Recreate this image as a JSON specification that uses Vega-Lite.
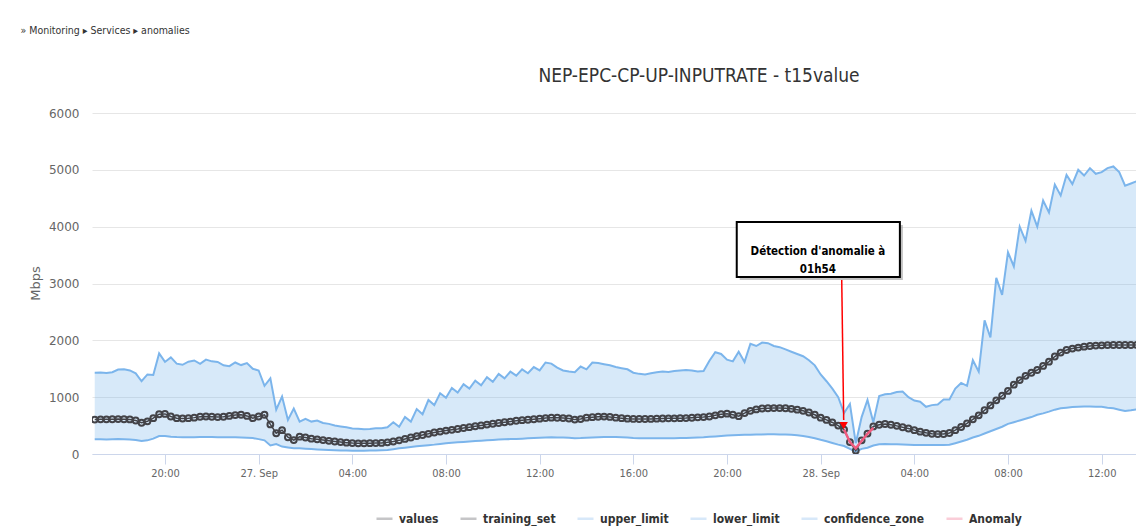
{
  "$schema": "https://vega.github.io/schema/vega-lite/v6.json",
  "width": 1044,
  "height": 341,
  "autosize": {"type": "none"},
  "padding": {"left": 92, "top": 113, "right": 0, "bottom": 72},
  "background": "white",
  "title": {"text": "NEP-EPC-CP-UP-INPUTRATE - t15value", "anchor": "middle", "dx": 85, "offset": -61, "font": "DejaVu Sans Condensed", "fontSize": 19, "fontWeight": "normal", "color": "#333333"},
  "config": {"view": {"stroke": null}},
  "datasets": {
    "series": [
      {"t":"2019-09-26T17:00","value":605,"upper_limit":1430,"lower_limit":258},
      {"t":"2019-09-26T17:15","value":610,"upper_limit":1432,"lower_limit":258},
      {"t":"2019-09-26T17:30","value":610,"upper_limit":1425,"lower_limit":256},
      {"t":"2019-09-26T17:45","value":612,"upper_limit":1440,"lower_limit":258},
      {"t":"2019-09-26T18:00","value":615,"upper_limit":1485,"lower_limit":262},
      {"t":"2019-09-26T18:15","value":612,"upper_limit":1492,"lower_limit":260},
      {"t":"2019-09-26T18:30","value":608,"upper_limit":1470,"lower_limit":255},
      {"t":"2019-09-26T18:45","value":590,"upper_limit":1420,"lower_limit":245},
      {"t":"2019-09-26T19:00","value":550,"upper_limit":1280,"lower_limit":229},
      {"t":"2019-09-26T19:15","value":575,"upper_limit":1400,"lower_limit":240},
      {"t":"2019-09-26T19:30","value":630,"upper_limit":1390,"lower_limit":270},
      {"t":"2019-09-26T19:45","value":700,"upper_limit":1770,"lower_limit":315},
      {"t":"2019-09-26T20:00","value":705,"upper_limit":1620,"lower_limit":317},
      {"t":"2019-09-26T20:15","value":660,"upper_limit":1700,"lower_limit":305},
      {"t":"2019-09-26T20:30","value":630,"upper_limit":1590,"lower_limit":298},
      {"t":"2019-09-26T20:45","value":625,"upper_limit":1570,"lower_limit":295},
      {"t":"2019-09-26T21:00","value":630,"upper_limit":1625,"lower_limit":295},
      {"t":"2019-09-26T21:15","value":640,"upper_limit":1645,"lower_limit":296},
      {"t":"2019-09-26T21:30","value":655,"upper_limit":1585,"lower_limit":297},
      {"t":"2019-09-26T21:45","value":660,"upper_limit":1660,"lower_limit":298},
      {"t":"2019-09-26T22:00","value":655,"upper_limit":1630,"lower_limit":298},
      {"t":"2019-09-26T22:15","value":650,"upper_limit":1620,"lower_limit":296},
      {"t":"2019-09-26T22:30","value":655,"upper_limit":1560,"lower_limit":294},
      {"t":"2019-09-26T22:45","value":670,"upper_limit":1545,"lower_limit":294},
      {"t":"2019-09-26T23:00","value":685,"upper_limit":1610,"lower_limit":293},
      {"t":"2019-09-26T23:15","value":690,"upper_limit":1565,"lower_limit":292},
      {"t":"2019-09-26T23:30","value":670,"upper_limit":1600,"lower_limit":288},
      {"t":"2019-09-26T23:45","value":630,"upper_limit":1500,"lower_limit":280},
      {"t":"2019-09-27T00:00","value":660,"upper_limit":1470,"lower_limit":262},
      {"t":"2019-09-27T00:15","value":690,"upper_limit":1200,"lower_limit":240},
      {"t":"2019-09-27T00:30","value":520,"upper_limit":1330,"lower_limit":150},
      {"t":"2019-09-27T00:45","value":365,"upper_limit":780,"lower_limit":175},
      {"t":"2019-09-27T01:00","value":420,"upper_limit":1010,"lower_limit":130},
      {"t":"2019-09-27T01:15","value":295,"upper_limit":600,"lower_limit":115},
      {"t":"2019-09-27T01:30","value":245,"upper_limit":800,"lower_limit":100},
      {"t":"2019-09-27T01:45","value":305,"upper_limit":570,"lower_limit":100},
      {"t":"2019-09-27T02:00","value":290,"upper_limit":620,"lower_limit":92},
      {"t":"2019-09-27T02:15","value":270,"upper_limit":570,"lower_limit":86},
      {"t":"2019-09-27T02:30","value":258,"upper_limit":590,"lower_limit":80},
      {"t":"2019-09-27T02:45","value":245,"upper_limit":545,"lower_limit":76},
      {"t":"2019-09-27T03:00","value":232,"upper_limit":530,"lower_limit":70},
      {"t":"2019-09-27T03:15","value":220,"upper_limit":500,"lower_limit":66},
      {"t":"2019-09-27T03:30","value":210,"upper_limit":485,"lower_limit":62},
      {"t":"2019-09-27T03:45","value":200,"upper_limit":470,"lower_limit":60},
      {"t":"2019-09-27T04:00","value":192,"upper_limit":450,"lower_limit":58},
      {"t":"2019-09-27T04:15","value":188,"upper_limit":445,"lower_limit":58},
      {"t":"2019-09-27T04:30","value":188,"upper_limit":435,"lower_limit":58},
      {"t":"2019-09-27T04:45","value":190,"upper_limit":440,"lower_limit":60},
      {"t":"2019-09-27T05:00","value":192,"upper_limit":452,"lower_limit":62},
      {"t":"2019-09-27T05:15","value":195,"upper_limit":455,"lower_limit":66},
      {"t":"2019-09-27T05:30","value":205,"upper_limit":470,"lower_limit":72},
      {"t":"2019-09-27T05:45","value":220,"upper_limit":560,"lower_limit":85},
      {"t":"2019-09-27T06:00","value":240,"upper_limit":480,"lower_limit":100},
      {"t":"2019-09-27T06:15","value":265,"upper_limit":650,"lower_limit":112},
      {"t":"2019-09-27T06:30","value":290,"upper_limit":570,"lower_limit":125},
      {"t":"2019-09-27T06:45","value":315,"upper_limit":790,"lower_limit":135},
      {"t":"2019-09-27T07:00","value":335,"upper_limit":700,"lower_limit":145},
      {"t":"2019-09-27T07:15","value":355,"upper_limit":950,"lower_limit":155},
      {"t":"2019-09-27T07:30","value":378,"upper_limit":860,"lower_limit":165},
      {"t":"2019-09-27T07:45","value":395,"upper_limit":1070,"lower_limit":178},
      {"t":"2019-09-27T08:00","value":412,"upper_limit":990,"lower_limit":188},
      {"t":"2019-09-27T08:15","value":425,"upper_limit":1160,"lower_limit":196},
      {"t":"2019-09-27T08:30","value":440,"upper_limit":1080,"lower_limit":205},
      {"t":"2019-09-27T08:45","value":458,"upper_limit":1230,"lower_limit":212},
      {"t":"2019-09-27T09:00","value":472,"upper_limit":1150,"lower_limit":220},
      {"t":"2019-09-27T09:15","value":488,"upper_limit":1290,"lower_limit":228},
      {"t":"2019-09-27T09:30","value":503,"upper_limit":1210,"lower_limit":235},
      {"t":"2019-09-27T09:45","value":518,"upper_limit":1350,"lower_limit":242},
      {"t":"2019-09-27T10:00","value":532,"upper_limit":1270,"lower_limit":248},
      {"t":"2019-09-27T10:15","value":546,"upper_limit":1410,"lower_limit":253},
      {"t":"2019-09-27T10:30","value":558,"upper_limit":1330,"lower_limit":258},
      {"t":"2019-09-27T10:45","value":570,"upper_limit":1450,"lower_limit":262},
      {"t":"2019-09-27T11:00","value":585,"upper_limit":1380,"lower_limit":265},
      {"t":"2019-09-27T11:15","value":595,"upper_limit":1490,"lower_limit":270},
      {"t":"2019-09-27T11:30","value":603,"upper_limit":1420,"lower_limit":275},
      {"t":"2019-09-27T11:45","value":612,"upper_limit":1530,"lower_limit":280},
      {"t":"2019-09-27T12:00","value":622,"upper_limit":1470,"lower_limit":285},
      {"t":"2019-09-27T12:15","value":632,"upper_limit":1610,"lower_limit":290},
      {"t":"2019-09-27T12:30","value":640,"upper_limit":1590,"lower_limit":293},
      {"t":"2019-09-27T12:45","value":638,"upper_limit":1520,"lower_limit":292},
      {"t":"2019-09-27T13:00","value":632,"upper_limit":1470,"lower_limit":290},
      {"t":"2019-09-27T13:15","value":625,"upper_limit":1450,"lower_limit":284},
      {"t":"2019-09-27T13:30","value":605,"upper_limit":1440,"lower_limit":278},
      {"t":"2019-09-27T13:45","value":615,"upper_limit":1540,"lower_limit":280},
      {"t":"2019-09-27T14:00","value":640,"upper_limit":1490,"lower_limit":285},
      {"t":"2019-09-27T14:15","value":648,"upper_limit":1610,"lower_limit":290},
      {"t":"2019-09-27T14:30","value":655,"upper_limit":1600,"lower_limit":293},
      {"t":"2019-09-27T14:45","value":658,"upper_limit":1580,"lower_limit":297},
      {"t":"2019-09-27T15:00","value":652,"upper_limit":1560,"lower_limit":300},
      {"t":"2019-09-27T15:15","value":640,"upper_limit":1530,"lower_limit":298},
      {"t":"2019-09-27T15:30","value":630,"upper_limit":1510,"lower_limit":295},
      {"t":"2019-09-27T15:45","value":622,"upper_limit":1490,"lower_limit":290},
      {"t":"2019-09-27T16:00","value":618,"upper_limit":1430,"lower_limit":282},
      {"t":"2019-09-27T16:15","value":616,"upper_limit":1410,"lower_limit":278},
      {"t":"2019-09-27T16:30","value":616,"upper_limit":1400,"lower_limit":276},
      {"t":"2019-09-27T16:45","value":618,"upper_limit":1420,"lower_limit":276},
      {"t":"2019-09-27T17:00","value":622,"upper_limit":1440,"lower_limit":276},
      {"t":"2019-09-27T17:15","value":625,"upper_limit":1450,"lower_limit":277},
      {"t":"2019-09-27T17:30","value":628,"upper_limit":1445,"lower_limit":278},
      {"t":"2019-09-27T17:45","value":628,"upper_limit":1460,"lower_limit":279},
      {"t":"2019-09-27T18:00","value":630,"upper_limit":1470,"lower_limit":280},
      {"t":"2019-09-27T18:15","value":632,"upper_limit":1480,"lower_limit":283},
      {"t":"2019-09-27T18:30","value":638,"upper_limit":1470,"lower_limit":287},
      {"t":"2019-09-27T18:45","value":645,"upper_limit":1450,"lower_limit":291},
      {"t":"2019-09-27T19:00","value":650,"upper_limit":1460,"lower_limit":295},
      {"t":"2019-09-27T19:15","value":660,"upper_limit":1640,"lower_limit":302},
      {"t":"2019-09-27T19:30","value":680,"upper_limit":1790,"lower_limit":310},
      {"t":"2019-09-27T19:45","value":700,"upper_limit":1760,"lower_limit":318},
      {"t":"2019-09-27T20:00","value":710,"upper_limit":1660,"lower_limit":325},
      {"t":"2019-09-27T20:15","value":690,"upper_limit":1630,"lower_limit":330},
      {"t":"2019-09-27T20:30","value":665,"upper_limit":1800,"lower_limit":334},
      {"t":"2019-09-27T20:45","value":720,"upper_limit":1620,"lower_limit":337},
      {"t":"2019-09-27T21:00","value":760,"upper_limit":1940,"lower_limit":340},
      {"t":"2019-09-27T21:15","value":785,"upper_limit":1900,"lower_limit":343},
      {"t":"2019-09-27T21:30","value":800,"upper_limit":1960,"lower_limit":345},
      {"t":"2019-09-27T21:45","value":805,"upper_limit":1950,"lower_limit":346},
      {"t":"2019-09-27T22:00","value":808,"upper_limit":1900,"lower_limit":346},
      {"t":"2019-09-27T22:15","value":808,"upper_limit":1880,"lower_limit":345},
      {"t":"2019-09-27T22:30","value":805,"upper_limit":1840,"lower_limit":343},
      {"t":"2019-09-27T22:45","value":795,"upper_limit":1800,"lower_limit":338},
      {"t":"2019-09-27T23:00","value":780,"upper_limit":1760,"lower_limit":330},
      {"t":"2019-09-27T23:15","value":760,"upper_limit":1720,"lower_limit":318},
      {"t":"2019-09-27T23:30","value":730,"upper_limit":1650,"lower_limit":300},
      {"t":"2019-09-27T23:45","value":690,"upper_limit":1560,"lower_limit":278},
      {"t":"2019-09-28T00:00","value":640,"upper_limit":1400,"lower_limit":250},
      {"t":"2019-09-28T00:15","value":600,"upper_limit":1280,"lower_limit":225},
      {"t":"2019-09-28T00:30","value":555,"upper_limit":1150,"lower_limit":195},
      {"t":"2019-09-28T00:45","value":500,"upper_limit":1000,"lower_limit":165},
      {"t":"2019-09-28T01:00","value":430,"upper_limit":720,"lower_limit":140,"anomaly":430},
      {"t":"2019-09-28T01:15","value":210,"upper_limit":880,"lower_limit":90,"anomaly":210},
      {"t":"2019-09-28T01:30","value":60,"upper_limit":190,"lower_limit":40,"anomaly":100},
      {"t":"2019-09-28T01:45","value":240,"upper_limit":650,"lower_limit":90,"anomaly":230},
      {"t":"2019-09-28T02:00","value":360,"upper_limit":950,"lower_limit":110,"anomaly":355},
      {"t":"2019-09-28T02:15","value":485,"upper_limit":560,"lower_limit":150,"anomaly":460},
      {"t":"2019-09-28T02:30","value":515,"upper_limit":1020,"lower_limit":170},
      {"t":"2019-09-28T02:45","value":528,"upper_limit":1050,"lower_limit":175},
      {"t":"2019-09-28T03:00","value":515,"upper_limit":1060,"lower_limit":172},
      {"t":"2019-09-28T03:15","value":495,"upper_limit":1090,"lower_limit":170},
      {"t":"2019-09-28T03:30","value":470,"upper_limit":1100,"lower_limit":166},
      {"t":"2019-09-28T03:45","value":448,"upper_limit":1000,"lower_limit":163},
      {"t":"2019-09-28T04:00","value":420,"upper_limit":940,"lower_limit":160},
      {"t":"2019-09-28T04:15","value":393,"upper_limit":920,"lower_limit":158},
      {"t":"2019-09-28T04:30","value":372,"upper_limit":830,"lower_limit":158},
      {"t":"2019-09-28T04:45","value":355,"upper_limit":860,"lower_limit":158},
      {"t":"2019-09-28T05:00","value":350,"upper_limit":870,"lower_limit":158},
      {"t":"2019-09-28T05:15","value":352,"upper_limit":960,"lower_limit":158},
      {"t":"2019-09-28T05:30","value":370,"upper_limit":960,"lower_limit":162},
      {"t":"2019-09-28T05:45","value":420,"upper_limit":1150,"lower_limit":190},
      {"t":"2019-09-28T06:00","value":475,"upper_limit":1250,"lower_limit":220},
      {"t":"2019-09-28T06:15","value":540,"upper_limit":1200,"lower_limit":250},
      {"t":"2019-09-28T06:30","value":610,"upper_limit":1650,"lower_limit":290},
      {"t":"2019-09-28T06:45","value":680,"upper_limit":1450,"lower_limit":320},
      {"t":"2019-09-28T07:00","value":770,"upper_limit":2350,"lower_limit":360},
      {"t":"2019-09-28T07:15","value":855,"upper_limit":2050,"lower_limit":400},
      {"t":"2019-09-28T07:30","value":945,"upper_limit":3100,"lower_limit":440},
      {"t":"2019-09-28T07:45","value":1025,"upper_limit":2800,"lower_limit":480},
      {"t":"2019-09-28T08:00","value":1110,"upper_limit":3550,"lower_limit":530},
      {"t":"2019-09-28T08:15","value":1220,"upper_limit":3300,"lower_limit":560},
      {"t":"2019-09-28T08:30","value":1300,"upper_limit":4000,"lower_limit":590},
      {"t":"2019-09-28T08:45","value":1375,"upper_limit":3750,"lower_limit":620},
      {"t":"2019-09-28T09:00","value":1430,"upper_limit":4280,"lower_limit":650},
      {"t":"2019-09-28T09:15","value":1478,"upper_limit":4000,"lower_limit":690},
      {"t":"2019-09-28T09:30","value":1550,"upper_limit":4460,"lower_limit":715},
      {"t":"2019-09-28T09:45","value":1625,"upper_limit":4250,"lower_limit":745},
      {"t":"2019-09-28T10:00","value":1715,"upper_limit":4740,"lower_limit":780},
      {"t":"2019-09-28T10:15","value":1785,"upper_limit":4550,"lower_limit":805},
      {"t":"2019-09-28T10:30","value":1830,"upper_limit":4910,"lower_limit":815},
      {"t":"2019-09-28T10:45","value":1855,"upper_limit":4750,"lower_limit":825},
      {"t":"2019-09-28T11:00","value":1872,"upper_limit":5000,"lower_limit":833},
      {"t":"2019-09-28T11:15","value":1888,"upper_limit":4900,"lower_limit":835},
      {"t":"2019-09-28T11:30","value":1900,"upper_limit":5030,"lower_limit":835},
      {"t":"2019-09-28T11:45","value":1908,"upper_limit":4930,"lower_limit":833},
      {"t":"2019-09-28T12:00","value":1912,"upper_limit":4960,"lower_limit":830},
      {"t":"2019-09-28T12:15","value":1916,"upper_limit":5030,"lower_limit":815},
      {"t":"2019-09-28T12:30","value":1918,"upper_limit":5060,"lower_limit":804},
      {"t":"2019-09-28T12:45","value":1918,"upper_limit":4960,"lower_limit":780},
      {"t":"2019-09-28T13:00","value":1918,"upper_limit":4720,"lower_limit":757},
      {"t":"2019-09-28T13:15","value":1918,"upper_limit":4760,"lower_limit":770},
      {"t":"2019-09-28T13:30","value":1918,"upper_limit":4800,"lower_limit":786}
    ],
    "note": [
      {"t1":"2019-09-27T20:25","t2":"2019-09-28T03:23","v1":3114,"v2":4082,"tc":"2019-09-27T23:53","vc":3555,"label":"Détection d'anomalie à\n01h54","ta":"2019-09-28T00:54","tb":"2019-09-28T00:59","va":3062,"vb":600,"vh":500}
    ]
  },
  "data": {"name": "series"},
  "layer": [
    {
      "transform": [{"fold": ["upper_limit", "lower_limit"], "as": ["series", "v"]}],
      "mark": {"type": "line", "strokeWidth": 2, "clip": true},
      "encoding": {
        "x": {"field": "t", "type": "temporal",
          "scale": {"domain": [{"year": 2019, "month": 9, "date": 26, "hours": 16, "minutes": 53}, {"year": 2019, "month": 9, "date": 28, "hours": 13, "minutes": 28}]},
          "axis": {"orient": "bottom", "title": null, "grid": false, "domainColor": "#ccd6eb", "domainWidth": 1, "tickColor": "#ccd6eb", "tickSize": 10, "labelPadding": 3, "labelFont": "DejaVu Sans Condensed", "labelFontSize": 11, "labelColor": "#666666", "labelFlush": false, "labelOverlap": false,
            "values": [
              {"year": 2019, "month": 9, "date": 26, "hours": 20},
              {"year": 2019, "month": 9, "date": 27, "hours": 0},
              {"year": 2019, "month": 9, "date": 27, "hours": 4},
              {"year": 2019, "month": 9, "date": 27, "hours": 8},
              {"year": 2019, "month": 9, "date": 27, "hours": 12},
              {"year": 2019, "month": 9, "date": 27, "hours": 16},
              {"year": 2019, "month": 9, "date": 27, "hours": 20},
              {"year": 2019, "month": 9, "date": 28, "hours": 0},
              {"year": 2019, "month": 9, "date": 28, "hours": 4},
              {"year": 2019, "month": 9, "date": 28, "hours": 8},
              {"year": 2019, "month": 9, "date": 28, "hours": 12}],
            "labelExpr": "hours(datum.value) === 0 ? date(datum.value) + '. ' + timeFormat(datum.value, '%b') : timeFormat(datum.value, '%H:%M')"}},
        "y": {"field": "v", "type": "quantitative",
          "scale": {"domain": [0, 6000], "nice": false},
          "axis": {"title": "Mbps", "values": [0, 1000, 2000, 3000, 4000, 5000, 6000], "format": "d", "grid": true, "gridColor": "#e6e6e6", "domain": false, "ticks": false, "labelPadding": 13, "labelFont": "DejaVu Sans", "labelFontSize": 12, "labelColor": "#666666", "titleFont": "DejaVu Sans", "titleFontSize": 13, "titleFontWeight": "normal", "titleColor": "#666666", "titleX": -57, "titleY": 170, "titleAngle": -90, "titleBaseline": "middle", "titleAlign": "center"}},
        "color": {"field": "series", "type": "nominal", "title": null,
          "scale": {"domain": ["values", "training_set", "upper_limit", "lower_limit", "confidence_zone", "Anomaly"], "range": ["#434348", "#434348", "#7cb5ec", "#7cb5ec", "#7cb5ec", "#f15c80"]},
          "legend": {"orient": "none", "legendX": 283, "legendY": 396, "direction": "horizontal", "title": null, "columnPadding": 16, "labelOffset": 5, "symbolType": "stroke", "symbolSize": 256, "symbolStrokeWidth": 2.5, "symbolOpacity": 1, "labelFont": "DejaVu Sans Condensed", "labelFontSize": 12, "labelFontWeight": "bold", "labelColor": "#333333"}
        }
      }
    },
    {
      "mark": {"type": "area", "opacity": 0.3, "clip": true},
      "encoding": {
        "x": {"field": "t", "type": "temporal",
          "axis": {"orient": "top", "domain": false, "ticks": false, "labels": false, "grid": false, "title": "»  Monitoring ▸ Services ▸ anomalies", "titleX": -72, "titleY": -83, "titleAlign": "left", "titleAnchor": "start", "titleBaseline": "middle", "titleAngle": 0, "titleFont": "DejaVu Sans Condensed", "titleFontSize": 10.5, "titleFontWeight": "normal", "titleColor": "#333333"}},
        "y": {"field": "upper_limit", "type": "quantitative"},
        "y2": {"field": "lower_limit"},
        "color": {"datum": "confidence_zone", "type": "nominal", "title": null, "legend": {"title": null}}
      }
    },
    {
      "mark": {"type": "line", "strokeWidth": 1.5, "clip": true},
      "encoding": {
        "x": {"field": "t", "type": "temporal", "axis": null},
        "y": {"field": "value", "type": "quantitative"},
        "color": {"datum": "training_set", "type": "nominal", "title": null, "legend": {"title": null}}
      }
    },
    {
      "mark": {"type": "point", "shape": "circle", "filled": false, "size": 34, "strokeWidth": 2, "opacity": 1, "clip": true},
      "encoding": {
        "x": {"field": "t", "type": "temporal", "axis": null},
        "y": {"field": "value", "type": "quantitative"},
        "color": {"datum": "values", "type": "nominal", "title": null, "legend": {"title": null}}
      }
    },
    {
      "transform": [{"filter": "isValid(datum.anomaly)"}],
      "mark": {"type": "line", "strokeWidth": 2.5, "clip": true},
      "encoding": {
        "x": {"field": "t", "type": "temporal", "axis": null},
        "y": {"field": "anomaly", "type": "quantitative"},
        "color": {"datum": "Anomaly", "type": "nominal", "title": null, "legend": {"title": null}}
      }
    },
    {
      "data": {"name": "note"},
      "mark": {"type": "rect", "fill": "#999999", "opacity": 0.6, "xOffset": 3, "x2Offset": 3, "yOffset": 3, "y2Offset": 3},
      "encoding": {
        "x": {"field": "t1", "type": "temporal", "axis": null},
        "x2": {"field": "t2"},
        "y": {"field": "v1", "type": "quantitative"},
        "y2": {"field": "v2"}
      }
    },
    {
      "data": {"name": "note"},
      "mark": {"type": "rect", "fill": "#ffffff", "stroke": "#000000", "strokeWidth": 2},
      "encoding": {
        "x": {"field": "t1", "type": "temporal", "axis": null},
        "x2": {"field": "t2"},
        "y": {"field": "v1", "type": "quantitative"},
        "y2": {"field": "v2"}
      }
    },
    {
      "data": {"name": "note"},
      "mark": {"type": "text", "font": "DejaVu Sans Condensed", "fontSize": 11.5, "fontWeight": "bold", "color": "#000000", "align": "center", "baseline": "middle", "lineBreak": "\n", "lineHeight": 18},
      "encoding": {
        "x": {"field": "tc", "type": "temporal", "axis": null},
        "y": {"field": "vc", "type": "quantitative"},
        "text": {"field": "label"}
      }
    },
    {
      "data": {"name": "note"},
      "mark": {"type": "rule", "color": "#ff0000", "strokeWidth": 1.5},
      "encoding": {
        "x": {"field": "ta", "type": "temporal", "axis": null},
        "x2": {"field": "tb"},
        "y": {"field": "va", "type": "quantitative"},
        "y2": {"field": "vb"}
      }
    },
    {
      "data": {"name": "note"},
      "mark": {"type": "point", "shape": "triangle-down", "filled": true, "color": "#ff0000", "size": 70, "opacity": 1},
      "encoding": {
        "x": {"field": "tb", "type": "temporal", "axis": null},
        "y": {"field": "vh", "type": "quantitative"}
      }
    }
  ]
}
